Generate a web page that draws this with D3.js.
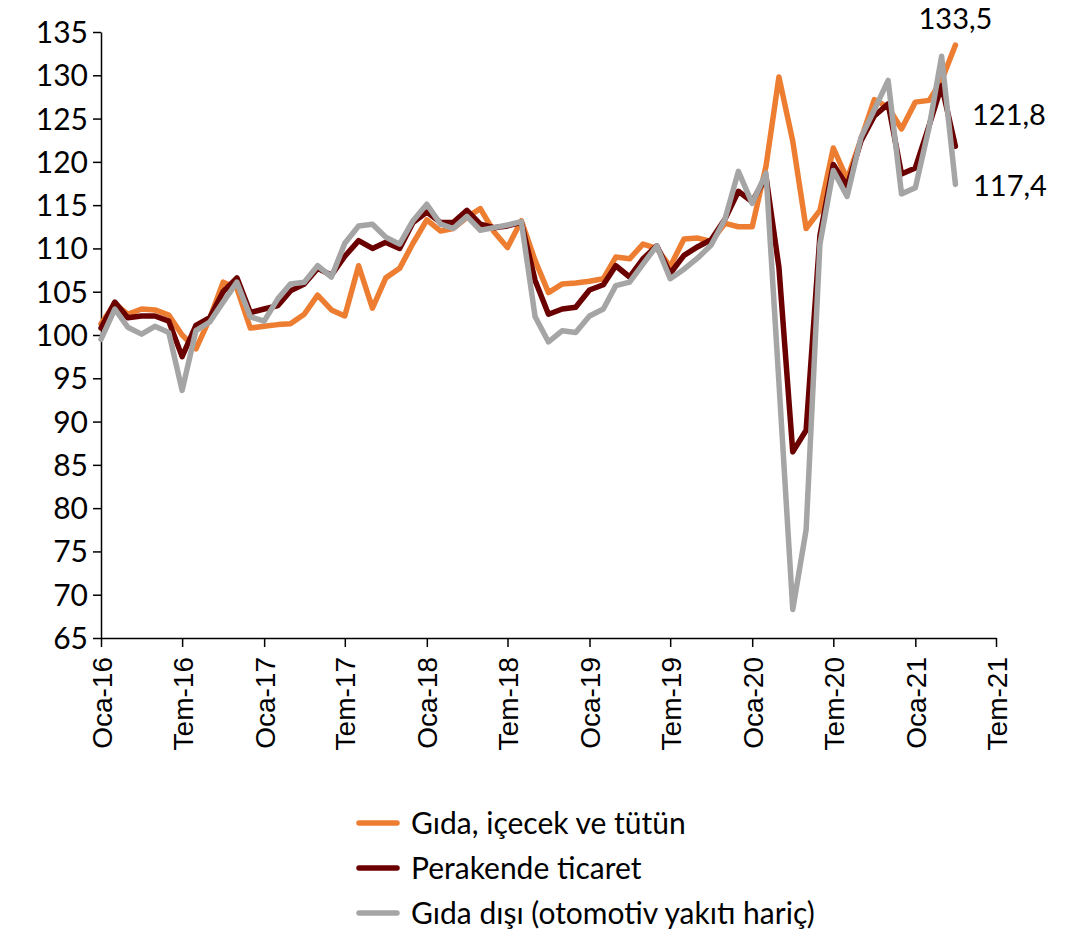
<!DOCTYPE html>
<html>
<head>
<meta charset="utf-8">
<script src="https://cdn.jsdelivr.net/npm/d3@7"></script>
<style>
	body { margin: 0; background: #fff; }
	svg { display: block; }
	.axis path, .axis line { stroke: #000; stroke-width: 1.5; }
	.ytick text { font-family: Lato, sans-serif; font-size: 30px; fill: #000; }
	.xtick text { font-family: "Liberation Sans", Arial, sans-serif; font-size: 28px; fill: #000; }
	.series { fill: none; stroke-width: 5.5; stroke-linejoin: round; stroke-linecap: round; }
	.endlabel { font-family: Lato, sans-serif; font-size: 29px; fill: #000; }
	.legend text { font-family: Lato, sans-serif; font-size: 30px; fill: #000; }
</style>
</head>
<body>
<svg id="chart" width="1076" height="931"></svg>
<script>
// months Oca-16 .. Nis-21
var months = [
	"2016-01","2016-02","2016-03","2016-04","2016-05","2016-06","2016-07","2016-08","2016-09","2016-10","2016-11","2016-12",
	"2017-01","2017-02","2017-03","2017-04","2017-05","2017-06","2017-07","2017-08","2017-09","2017-10","2017-11","2017-12",
	"2018-01","2018-02","2018-03","2018-04","2018-05","2018-06","2018-07","2018-08","2018-09","2018-10","2018-11","2018-12",
	"2019-01","2019-02","2019-03","2019-04","2019-05","2019-06","2019-07","2019-08","2019-09","2019-10","2019-11","2019-12",
	"2020-01","2020-02","2020-03","2020-04","2020-05","2020-06","2020-07","2020-08","2020-09","2020-10","2020-11","2020-12",
	"2021-01","2021-02","2021-03","2021-04"
];

var gidaIcecek = [
	101.3,103.6,102.4,103.0,102.9,102.3,100.0,98.4,101.9,106.1,105.4,100.8,
	101.0,101.2,101.3,102.4,104.6,102.9,102.2,108.0,103.1,106.6,107.7,110.6,
	113.3,112.0,112.3,113.6,114.6,111.9,110.1,113.2,108.6,104.9,105.9,106.0,
	106.2,106.5,109.0,108.8,110.5,110.0,107.9,111.1,111.2,110.8,112.9,112.5,
	112.5,119.5,129.8,122.4,112.3,114.4,121.6,118.0,122.6,127.2,126.3,123.8,
	126.9,127.1,129.4,133.5
];

var perakende = [
	100.8,103.8,102.0,102.2,102.2,101.6,97.5,101.1,102.0,105.0,106.6,102.6,
	103.0,103.4,105.1,105.9,107.7,106.9,109.1,110.9,110.0,110.7,110.0,113.0,
	114.2,113.0,113.0,114.4,112.8,112.4,112.6,113.0,106.3,102.4,103.0,103.2,
	105.2,105.8,108.0,106.7,108.8,110.3,107.1,109.2,110.2,111.0,113.4,116.6,
	115.4,118.3,107.8,86.5,89.0,111.5,119.7,117.2,122.4,125.3,126.7,118.6,
	119.3,124.2,128.8,121.8
];

var gidaDisi = [
	99.5,103.0,100.9,100.1,101.0,100.3,93.6,100.5,101.5,103.8,106.1,102.1,
	101.6,104.2,105.9,106.1,108.0,106.7,110.6,112.6,112.8,111.3,110.5,113.2,
	115.1,112.8,112.3,113.7,112.1,112.4,112.7,113.1,102.1,99.2,100.5,100.3,
	102.2,103.0,105.7,106.1,108.2,110.3,106.5,107.6,108.9,110.4,113.4,118.9,
	115.2,118.7,94.5,68.3,77.5,110.5,119.0,116.0,122.8,126.0,129.4,116.3,
	117.0,124.0,132.2,117.4
];

var seriesNames = ["Gıda, içecek ve tütün", "Perakende ticaret", "Gıda dışı (otomotiv yakıtı hariç)"];
var seriesColors = ["#ED7D31", "#6B0000", "#A5A5A5"];

var tickDates = ["2016-01","2016-07","2017-01","2017-07","2018-01","2018-07","2019-01","2019-07","2020-01","2020-07","2021-01","2021-07"];
var tickLabels = ["Oca-16","Tem-16","Oca-17","Tem-17","Oca-18","Tem-18","Oca-19","Tem-19","Oca-20","Tem-20","Oca-21","Tem-21"];
var yTicks = [65,70,75,80,85,90,95,100,105,110,115,120,125,130,135];

var parseMonth = d3.timeParse("%Y-%m");

var svg = d3.select("svg#chart");
var margin = {left: 101, top: 32};

var x = d3.scaleTime()
	.domain([parseMonth("2016-01"), parseMonth("2021-07")])
	.range([margin.left, 996]);

var y = d3.scaleLinear()
	.domain([65, 135])
	.range([638, margin.top]);

// y axis
var yAxis = svg.append("g")
	.classed("axis ytick", true)
	.attr("transform", "translate(" + margin.left + ",0)")
	.call(d3.axisLeft(y).tickValues(yTicks).tickSize(8).tickPadding(5).tickSizeOuter(0));
yAxis.selectAll("text").attr("dy", "0.35em");

// x axis
var xAxis = svg.append("g")
	.classed("axis xtick", true)
	.attr("transform", "translate(0," + y(65) + ")")
	.call(d3.axisBottom(x)
		.tickValues(tickDates.map(parseMonth))
		.tickFormat(function (d, i) { return tickLabels[i]; })
		.tickSize(9).tickSizeOuter(0));

xAxis.selectAll("text")
	.attr("text-anchor", "end")
	.attr("transform", "rotate(-90)")
	.attr("x", -19)
	.attr("y", 0)
	.attr("dy", "0.36em");

// lines
var line = d3.line()
	.x(function (d) { return x(d.date); })
	.y(function (d) { return y(d.value); });

var allSeries = [gidaIcecek, perakende, gidaDisi];

allSeries.forEach(function (values, k) {
	var data = values.map(function (v, i) {
		return {date: parseMonth(months[i]), value: v};
	});
	svg.append("path")
		.datum(data)
		.classed("series", true)
		.attr("stroke", seriesColors[k])
		.attr("d", line);
});

// end value labels
var lastDate = parseMonth(months[months.length - 1]);
var fmt = function (v) { return d3.format(".1f")(v).replace(".", ","); };

svg.append("text").classed("endlabel", true)
	.attr("x", x(lastDate))
	.attr("y", y(gidaIcecek[gidaIcecek.length - 1]) - 16)
	.attr("text-anchor", "middle")
	.text(fmt(gidaIcecek[gidaIcecek.length - 1]));

svg.append("text").classed("endlabel", true)
	.attr("x", 972)
	.attr("y", y(perakende[perakende.length - 1]) - 21)
	.text(fmt(perakende[perakende.length - 1]));

svg.append("text").classed("endlabel", true)
	.attr("x", 973)
	.attr("y", y(gidaDisi[gidaDisi.length - 1]) + 12)
	.text(fmt(gidaDisi[gidaDisi.length - 1]));

// legend
var legend = svg.append("g").classed("legend", true)
	.attr("transform", "translate(357,823)");

var item = legend.selectAll("g.item")
	.data(seriesNames)
	.enter().append("g")
	.classed("item", true)
	.attr("transform", function (d, i) { return "translate(0," + (i * 45) + ")"; });

item.append("line")
	.attr("x1", 2).attr("x2", 40)
	.attr("y1", 0).attr("y2", 0)
	.attr("stroke", function (d, i) { return seriesColors[i]; })
	.attr("stroke-width", 5.5)
	.attr("stroke-linecap", "round");

item.append("text")
	.attr("x", 54)
	.attr("y", 0)
	.attr("dy", "0.35em")
	.text(function (d) { return d; });
</script>
</body>
</html>
